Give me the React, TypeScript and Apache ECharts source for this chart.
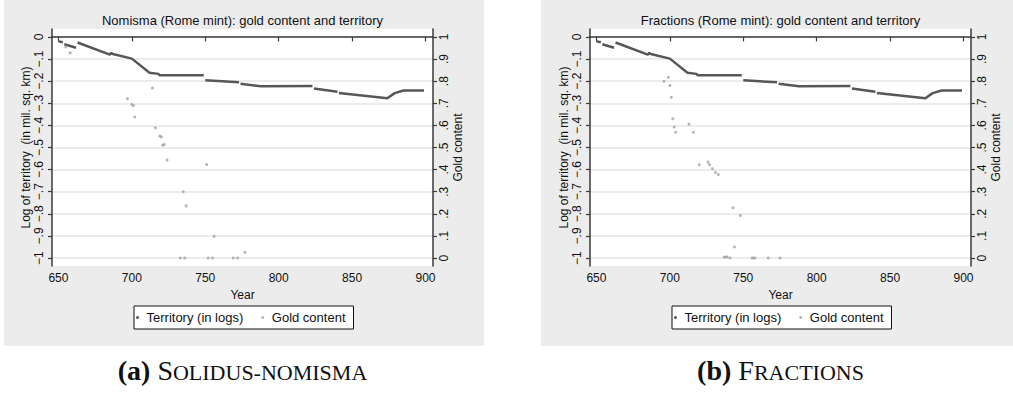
import React, { useEffect, useRef } from "react";
import * as echarts from "echarts";

// ---------- data ----------
const yearTicks = [650, 700, 750, 800, 850, 900];
const territoryTicks = [0, -0.1, -0.2, -0.3, -0.4, -0.5, -0.6, -0.7, -0.8, -0.9, -1];
const territoryTickLabels = ["0", "\u2212.1", "\u2212.2", "\u2212.3", "\u2212.4", "\u2212.5", "\u2212.6", "\u2212.7", "\u2212.8", "\u2212.9", "\u22121"];
const goldTicks = [0, 0.1, 0.2, 0.3, 0.4, 0.5, 0.6, 0.7, 0.8, 0.9, 1];
const goldTickLabels = ["0", ".1", ".2", ".3", ".4", ".5", ".6", ".7", ".8", ".9", "1"];

// Territory (in logs); null marks a break between runs of yearly points
const territoryYears = [650, 653, 653.5, 654, 662, 662.5, 663, 685, 686, 687, 700, 712, 718, 719, 749, 749.5, 750, 773, 773.5, 774, 788, 823, 823.5, 824, 840, 840.5, 841, 874, 879, 885, 899];
const territoryValues = [-0.02, -0.024, null, -0.033, -0.049, null, -0.025, -0.08, -0.072, -0.077, -0.098, -0.162, -0.167, -0.173, -0.173, null, -0.196, -0.205, null, -0.212, -0.223, -0.222, null, -0.233, -0.248, null, -0.253, -0.277, -0.254, -0.242, -0.242];

// Nomisma gold content
const nomismaGoldYears = [655, 658, 697, 700, 701, 702, 714, 716, 719, 720, 721, 722, 724, 733, 735, 736, 737, 751, 752, 755, 756, 769, 772, 777];
const nomismaGold = [0.955, 0.928, 0.721, 0.695, 0.69, 0.638, 0.769, 0.589, 0.552, 0.548, 0.51, 0.514, 0.443, 0, 0.3, 0, 0.236, 0.423, 0, 0, 0.098, 0, 0, 0.026];

// Fractions gold content
const fractionsGoldYears = [696, 699, 700, 701, 702, 703, 704, 713, 716, 720, 726, 727, 729, 731, 733, 737, 738, 739, 741, 743, 744, 748, 756, 757, 758, 767, 775];
const fractionsGold = [0.8, 0.818, 0.78, 0.727, 0.63, 0.593, 0.569, 0.605, 0.569, 0.422, 0.434, 0.422, 0.404, 0.387, 0.378, 0.005, 0.005, 0.005, 0, 0.227, 0.05, 0.192, 0, 0, 0, 0, 0];

const titles = [
  "Nomisma (Rome mint): gold content and territory",
  "Fractions (Rome mint): gold content and territory",
];
const seriesNames = ["Territory (in logs)", "Gold content"];

// ---------- styling ----------
const SANS = "'Liberation Sans', Arial, Helvetica, sans-serif";
const SERIF = "'Liberation Serif', 'Times New Roman', serif";
const AXIS_COLOR = "#3a3a3a";
const TERR_COLOR = "#575757";
const GOLD_COLOR = "#a3a3a3";

const labelFor = (ticks: number[], labels: string[]) => (v: number) => {
  const i = ticks.findIndex((t) => Math.abs(t - v) < 1e-6);
  return i >= 0 ? labels[i] : "";
};

const pair = (xs: number[], ys: (number | null)[]) => xs.map((x, i) => [x, ys[i]]);

export default function App() {
  const ref = useRef<HTMLDivElement>(null);
  useEffect(() => {
    if (!ref.current) return;
    const chart = echarts.init(ref.current, undefined, { renderer: "svg" });

    const grids = [
      { left: 52, top: 29, width: 381, height: 237 },
      { left: 590, top: 29, width: 381, height: 237 },
    ];
    const centers = grids.map((g) => g.left + g.width / 2);

    const xAxes = grids.map((_, i) => ({
      type: "value",
      gridIndex: i,
      min: 645.6,
      max: 905.1,
      name: "Year",
      nameLocation: "middle",
      nameGap: 19,
      nameTextStyle: { fontFamily: SANS, fontSize: 12, color: "#111" },
      axisLine: { show: true, lineStyle: { color: AXIS_COLOR, width: 1.5 } },
      axisTick: { show: true, length: 4.5, customValues: yearTicks, lineStyle: { color: AXIS_COLOR, width: 1.2 } },
      axisLabel: { customValues: yearTicks, margin: 6, fontFamily: SANS, fontSize: 12, color: "#111" },
      splitLine: { show: false },
    }));

    const yAxes: any[] = [];
    grids.forEach((_, i) => {
      yAxes.push({
        type: "value",
        gridIndex: i,
        position: "left",
        min: -1.036,
        max: 0.036,
        name: "Log of territory  (in mil. sq. km)",
        nameLocation: "middle",
        nameGap: 19,
        nameRotate: 90,
        nameTextStyle: { fontFamily: SANS, fontSize: 12, color: "#111" },
        axisLine: { show: true, lineStyle: { color: AXIS_COLOR, width: 1.5 } },
        axisTick: { show: true, length: 4, customValues: territoryTicks, lineStyle: { color: AXIS_COLOR, width: 1.2 } },
        axisLabel: {
          customValues: territoryTicks,
          rotate: 90,
          margin: 7,
          fontFamily: SANS,
          fontSize: 12,
          color: "#111",
          formatter: labelFor(territoryTicks, territoryTickLabels),
        },
        splitLine: { show: true, lineStyle: { color: "#e6e6e6", width: 1.5 } },
      });
      yAxes.push({
        type: "value",
        gridIndex: i,
        position: "right",
        min: -0.036,
        max: 1.036,
        name: "Gold content",
        nameLocation: "middle",
        nameGap: 19,
        nameRotate: 90,
        nameTextStyle: { fontFamily: SANS, fontSize: 12, color: "#111" },
        axisLine: { show: true, lineStyle: { color: AXIS_COLOR, width: 1.5 } },
        axisTick: { show: true, length: 4, customValues: goldTicks, lineStyle: { color: AXIS_COLOR, width: 1.2 } },
        axisLabel: {
          customValues: goldTicks,
          rotate: 90,
          margin: 5,
          fontFamily: SANS,
          fontSize: 12,
          color: "#111",
          formatter: labelFor(goldTicks, goldTickLabels),
        },
        splitLine: { show: false },
      });
    });

    const goldData = [pair(nomismaGoldYears, nomismaGold), pair(fractionsGoldYears, fractionsGold)];
    const series: any[] = [];
    grids.forEach((_, i) => {
      series.push({
        name: seriesNames[0],
        type: "line",
        xAxisIndex: i,
        yAxisIndex: i * 2,
        data: pair(territoryYears, territoryValues),
        showSymbol: false,
        connectNulls: false,
        lineStyle: { color: TERR_COLOR, width: 2.5 },
        itemStyle: { color: TERR_COLOR },
        z: 3,
      });
      series.push({
        name: seriesNames[1],
        type: "scatter",
        xAxisIndex: i,
        yAxisIndex: i * 2 + 1,
        data: goldData[i],
        symbol: "circle",
        symbolSize: 3,
        itemStyle: { color: GOLD_COLOR },
        z: 4,
      });
    });

    const legends = grids.map((g) => ({
      left: g.left + 82,
      top: 306,
      orient: "horizontal",
      selectedMode: false,
      data: seriesNames.map((n) => ({ name: n, icon: "circle" })),
      itemWidth: 8,
      itemHeight: 3,
      itemGap: 18,
      padding: [5, 8, 5, 2],
      backgroundColor: "#fff",
      borderColor: "#111",
      borderWidth: 1,
      borderRadius: 0,
      textStyle: { fontFamily: SANS, fontSize: 13, color: "#111" },
    }));

    const captionRich = {
      b: { fontFamily: SERIF, fontSize: 28, fontWeight: "bold", fill: "#111", color: "#111", verticalAlign: "bottom", lineHeight: 30 },
      big: { fontFamily: SERIF, fontSize: 28, fill: "#111", color: "#111", verticalAlign: "bottom", lineHeight: 30 },
      sc: { fontFamily: SERIF, fontSize: 22, fill: "#111", color: "#111", verticalAlign: "bottom", lineHeight: 30, padding: [0, 0, 1, 0] },
    };
    const captions = ["{b|(a)} {big|S}{sc|OLIDUS-NOMISMA}", "{b|(b)} {big|F}{sc|RACTIONS}"];

    const graphics: any[] = [
      { type: "rect", z: -10, shape: { x: 4, y: 0, width: 480, height: 346 }, style: { fill: "#ececec" } },
      { type: "rect", z: -10, shape: { x: 541, y: 0, width: 472, height: 346 }, style: { fill: "#ececec" } },
    ];
    grids.forEach((g, i) => {
      graphics.push({ type: "rect", z: -9, shape: { x: g.left, y: g.top, width: g.width, height: g.height }, style: { fill: "#fff" } });
      graphics.push({
        type: "text",
        z: 10,
        x: centers[i],
        y: 20,
        style: { text: titles[i], fontFamily: SANS, fontSize: 13, fill: "#111", align: "center", verticalAlign: "middle", textAlign: "center", textVerticalAlign: "middle" },
      });
      graphics.push({
        type: "text",
        z: 10,
        x: centers[i],
        y: 369,
        style: { text: captions[i], fontFamily: SERIF, fontSize: 28, fill: "#111", align: "center", verticalAlign: "middle", textAlign: "center", textVerticalAlign: "middle", rich: captionRich },
      });
    });

    chart.setOption({
      animation: false,
      backgroundColor: "#fff",
      grid: grids.map((g) => ({ ...g, show: false, containLabel: false })),
      xAxis: xAxes,
      yAxis: yAxes,
      series,
      legend: legends,
      graphic: { elements: graphics },
    });

    return () => chart.dispose();
  }, []);

  return <div ref={ref} style={{ position: "absolute", left: 0, top: 0, width: 1013, height: 393 }} />;
}
